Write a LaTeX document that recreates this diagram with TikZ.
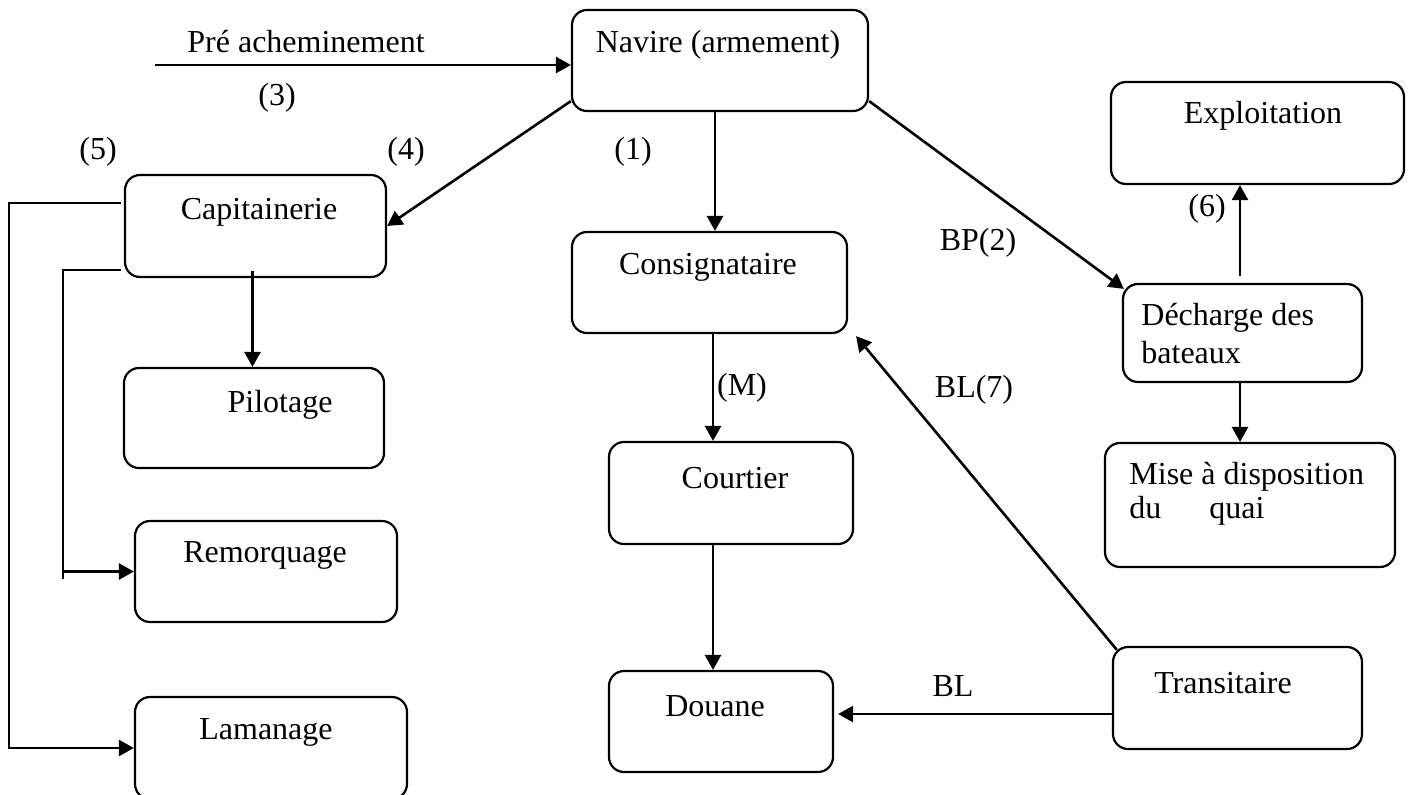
\documentclass[tikz,border=0pt]{standalone}
\usepackage{fontspec}
\setmainfont{Liberation Serif}
\usetikzlibrary{arrows.meta,calc}
\begin{document}
\begin{tikzpicture}[x=0.5pt,y=-0.5pt,
  bx/.style={draw,rounded corners=7.5pt,line width=1.1pt,inner sep=0pt},
  tx/.style={inner sep=0pt,font=\fontsize{16}{19}\selectfont},
  arr/.style={line width=1.3pt,-{Triangle[length=7.5pt,width=8pt]}},
  ln/.style={line width=1.3pt}]
\useasboundingbox (0,0) rectangle (1411,794);
% boxes
\node[bx,minimum width=148pt,minimum height=50.5pt] (navire) at (720,60.5) {};
\node[bx,minimum width=130.5pt,minimum height=51pt] (capit) at (255.5,226) {};
\node[bx,minimum width=130pt,minimum height=50pt] (pilot) at (254,418) {};
\node[bx,minimum width=131pt,minimum height=50.5pt] (remorq) at (266,571.5) {};
\node[bx,minimum width=136pt,minimum height=51pt] (laman) at (271,748) {};
\node[bx,minimum width=137.5pt,minimum height=50.5pt] (consig) at (709.5,282.5) {};
\node[bx,minimum width=122pt,minimum height=51pt] (courtier) at (731,493) {};
\node[bx,minimum width=112pt,minimum height=50.5pt] (douane) at (721,721.5) {};
\node[bx,minimum width=124.5pt,minimum height=51pt] (transit) at (1237.5,698) {};
\node[bx,minimum width=145pt,minimum height=62pt] (mise) at (1250,505) {};
\node[bx,minimum width=119.5pt,minimum height=49pt] (decharge) at (1242.5,333) {};
\node[bx,minimum width=146.5pt,minimum height=51pt] (expl) at (1257.5,133) {};
% box texts
\node[tx] (t-navire) at (718,45) {Navire (armement)};
\node[tx] (t-capit) at (259,212) {Capitainerie};
\node[tx] (t-pilot) at (280,405) {Pilotage};
\node[tx] (t-remorq) at (265,555) {Remorquage};
\node[tx] (t-laman) at (266,732) {Lamanage};
\node[tx] (t-consig) at (708,267) {Consignataire};
\node[tx] (t-courtier) at (735,478) {Courtier};
\node[tx] (t-douane) at (715,706) {Douane};
\node[tx] (t-transit) at (1223,683) {Transitaire};
\node[tx] (t-expl) at (1263,116) {Exploitation};
\node[tx,anchor=west] (t-dech1) at (1141,318) {Décharge des};
\node[tx,anchor=west] (t-dech2) at (1141,353) {bateaux};
\node[tx,anchor=west] (t-mise1) at (1129,477) {Mise à disposition};
\node[tx,anchor=west] (t-mise2) at (1129,511) {du\hspace{1.5em}quai};
% labels
\node[tx] (l-pre) at (306,42) {Pré acheminement};
\node[tx] (l-3) at (277,98) {(3)};
\node[tx] (l-5) at (98,152) {(5)};
\node[tx] (l-4) at (406,152) {(4)};
\node[tx] (l-1) at (633,152) {(1)};
\node[tx] (l-bp2) at (978,243) {BP(2)};
\node[tx] (l-6) at (1207,209) {(6)};
\node[tx] (l-m) at (742,388) {(M)};
\node[tx] (l-bl7) at (974,390) {BL(7)};
\node[tx] (l-bl) at (953,686) {BL};
% helper coordinates
\coordinate (pre) at (155,65);
\coordinate (xn) at (715,0);
\coordinate (xc) at (713,0);
\coordinate (xr) at (63,0);
\coordinate (xl) at (9,0);
\coordinate (xd) at (1240,0);
% connectors
\draw[arr] (pre) -- (pre -| navire.west);
\draw[arr] ([yshift=5.5pt]navire.south west) -- (capit.east);
\draw[arr] (navire.south -| xn) -- (consig.north -| xn);
\draw[arr] ([yshift=5.5pt]navire.south east) -- ([xshift=1pt,yshift=-3pt]decharge.north west);
\draw[arr] ([xshift=-1.5pt,yshift=3.5pt]capit.south) -- ([xshift=-1.5pt]capit.south |- pilot.north);
\draw[ln] ([xshift=-1.5pt,yshift=4pt]capit.south west) -| (remorq.west -| xr) -- ++(0,7);
\draw[arr] (remorq.west -| xr) -- (remorq.west);
\draw[arr] ([xshift=-1.5pt,yshift=11.5pt]capit.west) -| (laman.west -| xl) -- (laman.west);
\draw[arr] (consig.south -| xc) -- (courtier.north -| xc);
\draw[arr] (courtier.south -| xc) -- (douane.north -| xc);
\draw[arr] ([xshift=2.5pt,yshift=-2pt]transit.north west) -- ([xshift=4pt,yshift=-1pt]consig.south east);
\draw[arr] ([yshift=-8pt]transit.west) -- ([xshift=2pt,yshift=-8pt]transit.west -| douane.east);
\draw[arr] ([yshift=3.5pt]decharge.north -| xd) -- (expl.south -| xd);
\draw[arr] (decharge.south -| xd) -- (mise.north -| xd);
\end{tikzpicture}
\end{document}
